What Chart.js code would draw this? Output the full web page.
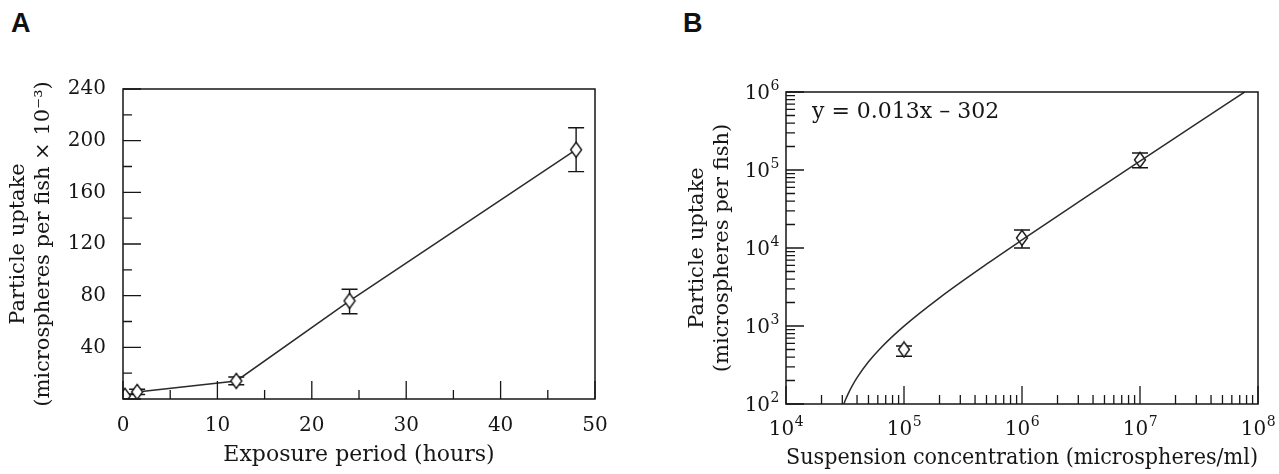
<!DOCTYPE html>
<html>
<head>
  <meta charset="UTF-8" />
  <title>Particle uptake</title>
  <script src="https://cdn.jsdelivr.net/npm/chart.js@4.4.0/dist/chart.umd.min.js"></script>
  <style>
    body{margin:0;background:#fff;width:1279px;height:474px;position:relative;overflow:hidden}
    .panel{position:absolute;top:0;height:474px}
    .tag{position:absolute;top:10px;font:bold 27px "Liberation Sans",Arial,sans-serif;line-height:1;color:#111}
  </style>
</head>
<body>
  <div class="tag" style="left:11px">A</div>
  <div class="tag" style="left:683px">B</div>
  <div class="panel" style="left:0;width:640px"><canvas id="chartA"></canvas></div>
  <div class="panel" style="left:640px;width:639px"><canvas id="chartB"></canvas></div>

  <script>
    // panel A: uptake vs exposure time
    const hoursA=[0.2,1.5,12,24,48];
    const uptakeA=[2.5,5.5,14,76,193];
    const lowA=[2.5,3.5,11,66,176];
    const highA=[2.5,7.5,17,85,210];
    const xTicksA=[0,10,20,30,40,50];
    const yTicksA=[40,80,120,160,200,240];

    // panel B: uptake vs suspension concentration (log-log)
    const concB=[1e5,1e6,1e7];
    const uptakeB=[500,13500,135000];
    const lowB=[410,10000,107000];
    const highB=[555,17000,165000];
    // fitted line y = 0.013x - 302
    const fitX=[31000,32000,34000,36000,40000,50000,65000,100000,200000,500000,1e6,3e6,1e7,3e7,7.7e7];
    const fitY=[101,114,140,166,218,348,543,998,2300,6200,12700,38700,129700,389700,1000000];
    const decadeTicks=[1e4,1e5,1e6,1e7,1e8];
    const yDecades=[1e2,1e3,1e4,1e5,1e6];

    const ink='#161616';
    const serif='"DejaVu Serif", serif';

    // hollow diamond marker, a bit taller than wide
    function diamond(){
      const c=document.createElement('canvas');
      c.width=14;c.height=18;
      const g=c.getContext('2d');
      g.beginPath();
      g.moveTo(7,1.5);g.lineTo(12.5,9);g.lineTo(7,16.5);g.lineTo(1.5,9);g.closePath();
      g.fillStyle='#fff';g.fill();
      g.lineWidth=1.4;g.strokeStyle=ink;g.stroke();
      return c;
    }
    const mark=diamond();

    // "10" with a raised exponent
    function powLabel(ctx,v,x,y,align){
      const e=String(Math.round(Math.log10(v)));
      ctx.font='20px '+serif;
      const wb=ctx.measureText('10').width;
      ctx.font='14px '+serif;
      const we=ctx.measureText(e).width;
      const x0=align==='right'?x-wb-we:x-(wb+we)/2;
      ctx.font='20px '+serif;
      ctx.fillText('10',x0,y);
      ctx.font='14px '+serif;
      ctx.fillText(e,x0+wb+0.5,y-9);
    }

    // box frame + inward ticks (major long, minor short)
    const framePlugin={
      id:'frame',
      afterDatasetsDraw(chart){
        const {ctx,chartArea:a,scales}=chart;
        ctx.save();
        ctx.strokeStyle=ink;
        ctx.lineWidth=1.5;
        ctx.strokeRect(a.left,a.top,a.right-a.left,a.bottom-a.top);
        ctx.lineWidth=1.3;
        const o=chart.options.plugins.frame;
        function ticksFor(sc,step){
          const major=[],minor=[];
          if(sc.type==='logarithmic'){
            for(let e=Math.round(Math.log10(sc.min));e<=Math.round(Math.log10(sc.max));e++){
              major.push(Math.pow(10,e));
              for(let k=2;k<=9;k++){const v=k*Math.pow(10,e);if(v<sc.max)minor.push(v);}
            }
          }else{
            for(let v=sc.min;v<=sc.max+1e-9;v+=step){
              if(Math.abs(v/(step*2)-Math.round(v/(step*2)))<1e-6)major.push(v);else minor.push(v);
            }
          }
          return {major,minor};
        }
        const xs=ticksFor(scales.x,o.xStep),ys=ticksFor(scales.y,o.yStep);
        ctx.beginPath();
        xs.major.forEach(v=>{const p=scales.x.getPixelForValue(v);ctx.moveTo(p,a.bottom);ctx.lineTo(p,a.bottom-18);});
        xs.minor.forEach(v=>{const p=scales.x.getPixelForValue(v);ctx.moveTo(p,a.bottom);ctx.lineTo(p,a.bottom-9);});
        ys.major.forEach(v=>{const p=scales.y.getPixelForValue(v);ctx.moveTo(a.left,p);ctx.lineTo(a.left+18,p);});
        ys.minor.forEach(v=>{const p=scales.y.getPixelForValue(v);ctx.moveTo(a.left,p);ctx.lineTo(a.left+9,p);});
        ctx.stroke();
        ctx.fillStyle=ink;
        ctx.textBaseline='alphabetic';
        ctx.textAlign='left';
        if(o.powLabels){
          scales.x.ticks.forEach(t=>powLabel(ctx,t.value,scales.x.getPixelForValue(t.value),a.bottom+31,'center'));
          scales.y.ticks.forEach(t=>powLabel(ctx,t.value,a.left-7,scales.y.getPixelForValue(t.value)+7,'right'));
        }
        if(o.note){
          ctx.font='22px '+serif;
          ctx.textBaseline='middle';
          ctx.fillText(o.note,a.left+26,a.top+20);
        }
        ctx.restore();
      }
    };

    // error bars drawn under the markers
    const errPlugin={
      id:'errbars',
      beforeDatasetsDraw(chart){
        const {ctx,scales}=chart;
        ctx.save();
        ctx.strokeStyle=ink;
        ctx.lineWidth=1.4;
        chart.data.datasets.forEach((ds,i)=>{
          if(!ds.errLow)return;
          chart.getDatasetMeta(i).data.forEach((pt,j)=>{
            const lo=scales.y.getPixelForValue(ds.errLow[j]);
            const hi=scales.y.getPixelForValue(ds.errHigh[j]);
            if(Math.abs(lo-hi)<1)return;
            ctx.beginPath();
            ctx.moveTo(pt.x,lo);ctx.lineTo(pt.x,hi);
            ctx.moveTo(pt.x-8,lo);ctx.lineTo(pt.x+8,lo);
            ctx.moveTo(pt.x-8,hi);ctx.lineTo(pt.x+8,hi);
            ctx.stroke();
          });
        });
        ctx.restore();
      }
    };

    Chart.defaults.color=ink;
    Chart.defaults.font.family=serif;

    new Chart(document.getElementById('chartA'),{
      type:'scatter',
      data:{datasets:[{
        data:hoursA.map((h,i)=>({x:h,y:uptakeA[i]})),
        errLow:lowA,errHigh:highA,
        showLine:true,borderColor:'#2b2b2b',borderWidth:1.5,
        pointStyle:mark,pointRadius:7,pointHoverRadius:7
      }]},
      options:{
        responsive:true,maintainAspectRatio:false,animation:false,
        layout:{padding:{left:0,right:45,top:89,bottom:0}},
        plugins:{legend:{display:false},tooltip:{enabled:false},frame:{xStep:5,yStep:20}},
        scales:{
          x:{type:'linear',min:0,max:50,
            afterBuildTicks:s=>{s.ticks=xTicksA.map(v=>({value:v}));},
            afterFit:s=>{s.height=75;},
            grid:{display:false},border:{display:false},
            ticks:{font:{size:20},padding:7,autoSkip:false,maxRotation:0},
            title:{display:true,text:'Exposure period (hours)',font:{size:22},padding:{top:0,bottom:6}}},
          y:{type:'linear',min:0,max:240,
            afterBuildTicks:s=>{s.ticks=yTicksA.map(v=>({value:v}));},
            afterFit:s=>{s.width=123;},
            grid:{display:false},border:{display:false},
            ticks:{font:{size:20},padding:9,autoSkip:false},
            title:{display:true,text:['Particle uptake','(microspheres per fish × 10⁻³)'],font:{size:21,lineHeight:1.2},padding:{top:6,bottom:0}}}
        }
      },
      plugins:[errPlugin,framePlugin]
    });

    new Chart(document.getElementById('chartB'),{
      type:'scatter',
      data:{datasets:[
        {data:fitX.map((x,i)=>({x,y:fitY[i]})),showLine:true,borderColor:'#2b2b2b',borderWidth:1.5,
          pointRadius:0,pointHoverRadius:0,cubicInterpolationMode:'monotone'},
        {data:concB.map((c,i)=>({x:c,y:uptakeB[i]})),errLow:lowB,errHigh:highB,
          showLine:false,pointStyle:mark,pointRadius:7,pointHoverRadius:7}
      ]},
      options:{
        responsive:true,maintainAspectRatio:false,animation:false,
        layout:{padding:{left:0,right:21,top:92,bottom:0}},
        plugins:{legend:{display:false},tooltip:{enabled:false},frame:{note:'y = 0.013x – 302',powLabels:true}},
        scales:{
          x:{type:'logarithmic',min:1e4,max:1e8,
            afterBuildTicks:s=>{s.ticks=decadeTicks.map(v=>({value:v}));},
            afterFit:s=>{s.height=70;},
            grid:{display:false},border:{display:false},
            ticks:{display:false},
            title:{display:true,text:'Suspension concentration (microspheres/ml)',font:{size:22},padding:{top:0,bottom:3}}},
          y:{type:'logarithmic',min:1e2,max:1e6,
            afterBuildTicks:s=>{s.ticks=yDecades.map(v=>({value:v}));},
            afterFit:s=>{s.width=146;},
            grid:{display:false},border:{display:false},
            ticks:{display:false},
            title:{display:true,text:['Particle uptake','(microspheres per fish)'],font:{size:21,lineHeight:1.2},padding:{top:45,bottom:0}}}
        }
      },
      plugins:[errPlugin,framePlugin]
    });
  </script>
</body>
</html>
